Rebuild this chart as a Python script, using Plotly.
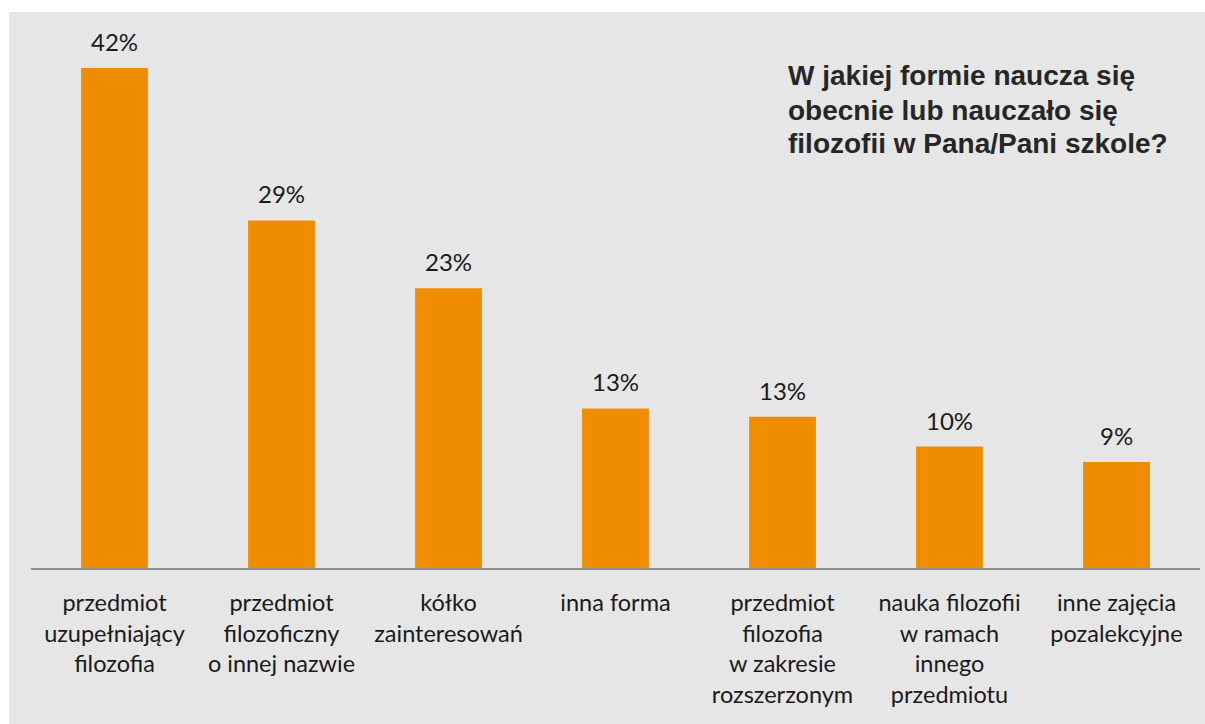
import plotly.graph_objects as go

categories = [
    "przedmiot<br>uzupełniający<br>filozofia",
    "przedmiot<br>filozoficzny<br>o innej nazwie",
    "kółko<br>zainteresowań",
    "inna forma",
    "przedmiot<br>filozofia<br>w zakresie<br>rozszerzonym",
    "nauka filozofii<br>w ramach<br>innego<br>przedmiotu",
    "inne zajęcia<br>pozalekcyjne",
]
values = [42.0, 29.2, 23.5, 13.4, 12.7, 10.2, 8.9]
labels = ["42%", "29%", "23%", "13%", "13%", "10%", "9%"]
title_lines = [
    "W jakiej formie naucza się",
    "obecnie lub nauczało się",
    "filozofii w Pana/Pani szkole?",
]

W, H = 1205, 724
ml, mr, mt, mb = 31, 5, 12, 156
plot_w = W - ml - mr
plot_h = H - mt - mb
px_per_unit = 500 / 42.0
ymax = plot_h / px_per_unit

fig = go.Figure()
fig.add_trace(go.Bar(
    x=categories, y=values,
    marker=dict(color="#F08C00", line=dict(width=0)),
    hoverinfo="skip",
))

for c, v, t in zip(categories, values, labels):
    fig.add_annotation(
        x=c, y=v, text=t, showarrow=False, yanchor="bottom",
        yshift=10, font=dict(family="Lato", size=24, color="#1a1a1a"),
    )

line_gap = 34
for i, line in enumerate(title_lines):
    fig.add_annotation(
        xref="paper", yref="paper",
        x=(786 - ml) / plot_w, y=1 - (76 + i * line_gap - mt) / plot_h,
        xanchor="left", yanchor="middle", align="left",
        text="<b>" + line + "</b>", showarrow=False,
        font=dict(family="Liberation Sans", size=28, color="#262626"),
    )

# white border strips (top and left) over the gray page
fig.add_shape(
    type="rect", xref="paper", yref="paper", layer="below",
    x0=-(ml + 10) / plot_w, x1=(W + 10 - ml) / plot_w,
    y0=1, y1=1 + (mt + 10) / plot_h,
    fillcolor="white", line=dict(width=0),
)
fig.add_shape(
    type="rect", xref="paper", yref="paper", layer="below",
    x0=-(ml + 10) / plot_w, x1=-(ml - 9) / plot_w,
    y0=-(mb + 10) / plot_h, y1=1 + (mt + 10) / plot_h,
    fillcolor="white", line=dict(width=0),
)

fig.update_layout(
    width=W, height=H,
    margin=dict(l=ml, r=mr, t=mt, b=mb),
    paper_bgcolor="#E6E6E6",
    plot_bgcolor="rgba(0,0,0,0)",
    bargap=0.6,
    showlegend=False,
    xaxis=dict(
        showline=True, linecolor="#8C8C8C", linewidth=2,
        showgrid=False, zeroline=False, ticks="",
        tickfont=dict(family="Lato", size=23.5, color="#1a1a1a"),
        ticklabelstandoff=13,
        fixedrange=True,
    ),
    yaxis=dict(
        range=[0, ymax], visible=False, showgrid=False, zeroline=False,
        fixedrange=True,
    ),
)

fig.write_html(
    "out.html",
    config={"displayModeBar": False},
    post_script="document.body.style.margin='0';document.body.style.overflow='hidden';document.body.style.background='#E6E6E6';",
)
